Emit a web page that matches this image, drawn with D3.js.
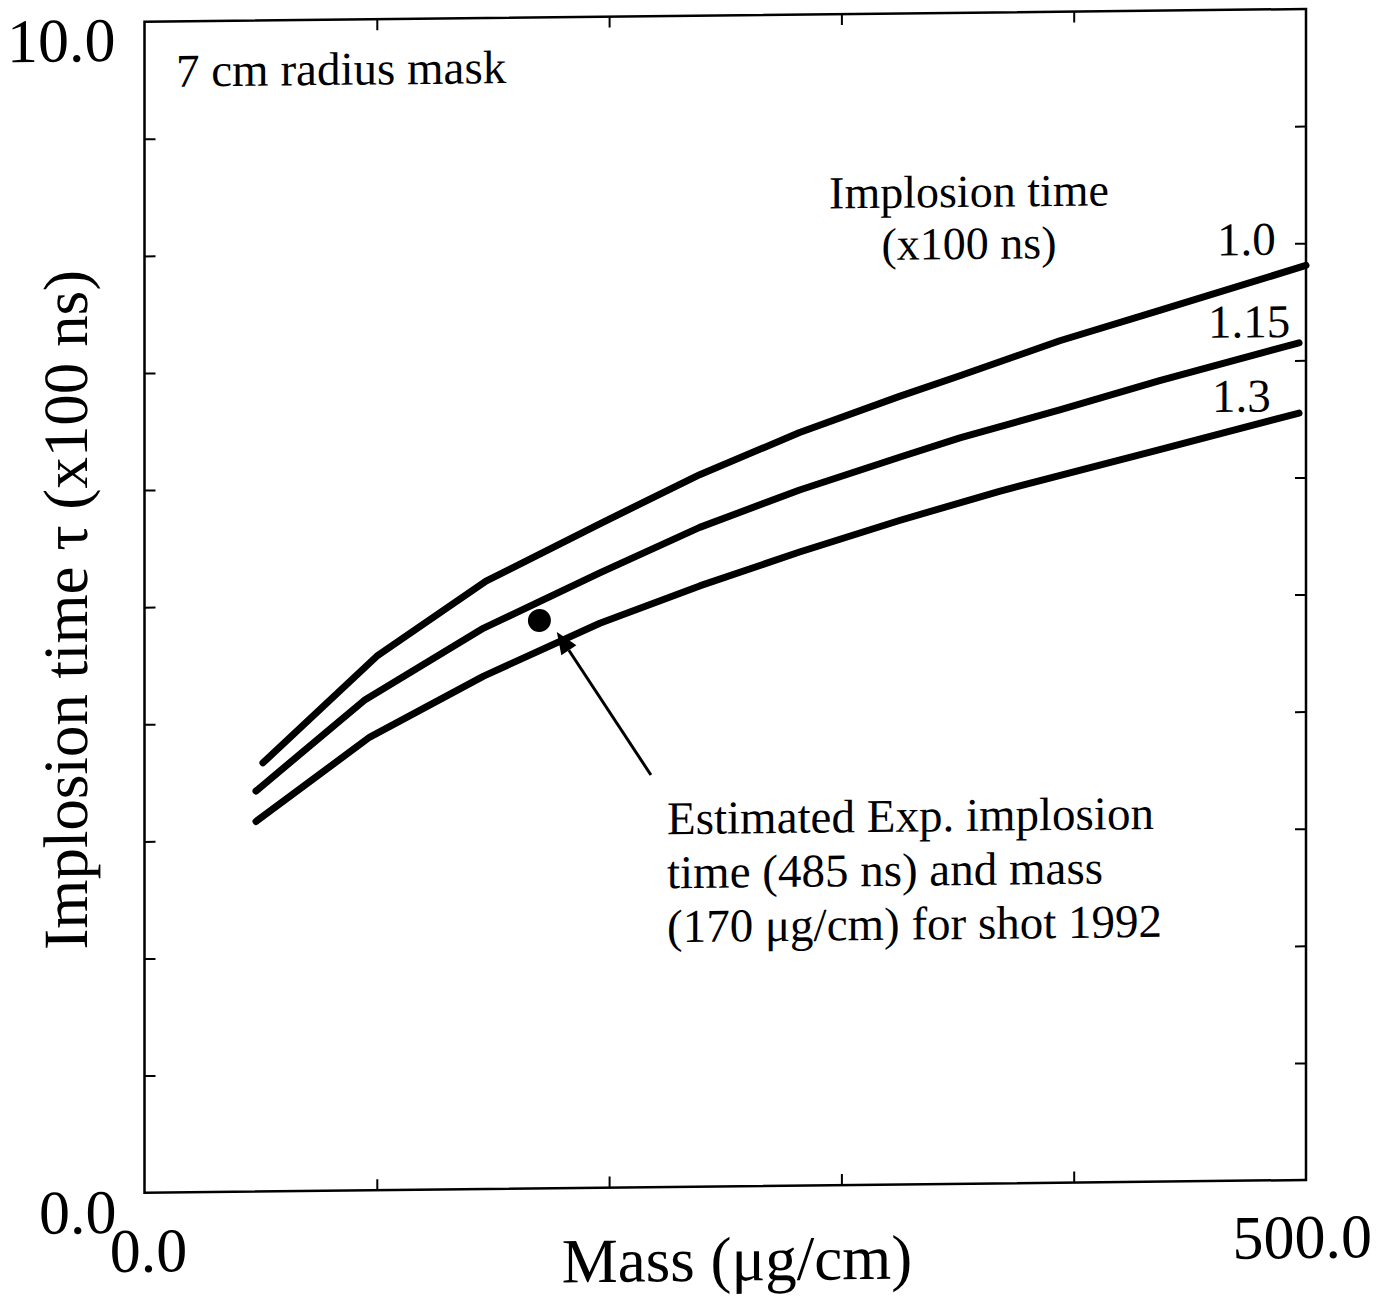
<!DOCTYPE html>
<html>
<head>
<meta charset="utf-8">
<script src="https://cdn.jsdelivr.net/npm/d3@7"></script>
<style>
  html, body { margin: 0; padding: 0; background: #fff; }
  svg { display: block; }
  text { font-family: "Liberation Serif", "Times New Roman", serif; fill: #000; }
</style>
</head>
<body>
<script>
// ---- data -------------------------------------------------------------
// Curves of constant implosion time (x100 ns): mass (ug/cm) vs tau (x100 ns)
const seriesNames = ["1.0", "1.15", "1.3"];
const mass100 = [51, 100, 147, 196, 239, 282, 325, 351, 394, 437, 500];
const tau100  = [3.66, 4.56, 5.19, 5.67, 6.08, 6.43, 6.73, 6.90, 7.19, 7.44, 7.81];
const mass115 = [48, 95, 146, 196, 239, 282, 325, 351, 394, 437, 497];
const tau115  = [3.42, 4.19, 4.79, 5.25, 5.63, 5.94, 6.21, 6.37, 6.60, 6.84, 7.15];
const mass130 = [48, 97, 146, 196, 239, 282, 325, 368, 437, 497];
const tau130  = [3.16, 3.87, 4.38, 4.82, 5.13, 5.41, 5.67, 5.91, 6.25, 6.55];

// Experimental estimate for shot 1992
const shotMass = 170;   // ug/cm
const shotTau = 4.85;   // x100 ns
// Arrow pointing at the estimate: [mass, tau] of tail and tip
const arrowTail = [218, 3.52];
const arrowTip  = [177.5, 4.75];

const xDomain = [0, 500];
const yDomain = [0, 10];
const xEndLabels = ["0.0", "500.0"];
const yEndLabels = ["0.0", "10.0"];
const xTicks = [100, 200, 300, 400];
const yTicks = [1, 2, 3, 4, 5, 6, 7, 8, 9];

const noteLines = [
  "Estimated Exp. implosion",
  "time (485 ns) and mass",
  "(170 \u03BCg/cm) for shot 1992"
];
const legendTitle = ["Implosion time", "(x100 ns)"];

// ---- layout -----------------------------------------------------------
const W = 1381, H = 1299;
const plotLeft = 144.5, plotRight = 1306, plotTop = 21.7, plotBottom = 1192.7;
// the whole sheet is drawn with a slight downward-left skew
const skewSlope = 0.01094;
const skewDeg = Math.atan(skewSlope) * 180 / Math.PI;

const x = d3.scaleLinear().domain(xDomain).range([plotLeft, plotRight]);
const y = d3.scaleLinear().domain(yDomain).range([plotBottom, plotTop]);

const svg = d3.select("body").append("svg")
  .attr("width", W).attr("height", H);
svg.append("rect").attr("width", W).attr("height", H).attr("fill", "#fff");

const g = svg.append("g")
  .attr("transform", `translate(0,${(skewSlope * plotLeft).toFixed(3)}) skewY(${(-skewDeg).toFixed(4)})`);

// ---- frame and ticks --------------------------------------------------
const tickLen = 11;
function styleAxis(sel) {
  sel.select(".domain").remove();
  sel.selectAll(".tick line").attr("stroke", "#000").attr("stroke-width", 2);
}
g.append("g").attr("transform", `translate(${x(0)},0)`)
  .call(d3.axisLeft(y).tickValues(yTicks).tickSize(-tickLen).tickFormat(""))
  .call(styleAxis);
g.append("g").attr("transform", `translate(${x(500)},0)`)
  .call(d3.axisRight(y).tickValues(yTicks).tickSize(-tickLen).tickFormat(""))
  .call(styleAxis);
g.append("g").attr("transform", `translate(0,${y(0)})`)
  .call(d3.axisBottom(x).tickValues(xTicks).tickSize(-tickLen).tickFormat(""))
  .call(styleAxis);
g.append("g").attr("transform", `translate(0,${y(10)})`)
  .call(d3.axisTop(x).tickValues(xTicks).tickSize(-tickLen).tickFormat(""))
  .call(styleAxis);

g.append("rect")
  .attr("x", x(0)).attr("y", y(10))
  .attr("width", x(500) - x(0)).attr("height", y(0) - y(10))
  .attr("fill", "none").attr("stroke", "#000").attr("stroke-width", 2.5);

// ---- end labels -------------------------------------------------------
const tickFont = 62;
g.append("text").attr("x", x(0) - 29).attr("y", y(10) + 39)
  .attr("text-anchor", "end").attr("font-size", tickFont).text(yEndLabels[1]);
g.append("text").attr("x", x(0) - 28).attr("y", y(0) + 40)
  .attr("text-anchor", "end").attr("font-size", tickFont).text(yEndLabels[0]);
g.append("text").attr("x", x(0) + 4).attr("y", y(0) + 79)
  .attr("text-anchor", "middle").attr("font-size", tickFont).text(xEndLabels[0]);
g.append("text").attr("x", x(500) + 66).attr("y", y(0) + 78)
  .attr("text-anchor", "end").attr("font-size", tickFont).text(xEndLabels[1]);

// ---- axis titles ------------------------------------------------------
g.append("text").attr("x", 737).attr("y", 1287)
  .attr("text-anchor", "middle").attr("font-size", 63)
  .text("Mass (\u03BCg/cm)");
g.append("text")
  .attr("transform", "translate(87,609) rotate(-90)")
  .attr("text-anchor", "middle").attr("font-size", 63)
  .text("Implosion time \u03C4 (x100 ns)");

// ---- curves -----------------------------------------------------------
const curves = [
  { name: seriesNames[0], pts: d3.zip(mass100, tau100) },
  { name: seriesNames[1], pts: d3.zip(mass115, tau115) },
  { name: seriesNames[2], pts: d3.zip(mass130, tau130) }
];
const line = d3.line().x(d => x(d[0])).y(d => y(d[1]));
g.selectAll("path.curve").data(curves).join("path")
  .attr("class", "curve")
  .attr("d", d => line(d.pts))
  .attr("fill", "none").attr("stroke", "#000")
  .attr("stroke-width", 7)
  .attr("stroke-linejoin", "round").attr("stroke-linecap", "round");

// curve labels, placed above each curve's right end
const labelFont = 47;
const labelOffsets = [[-89, -11], [-98, -6], [-94, -2]];
g.selectAll("text.curve-label").data(curves).join("text")
  .attr("class", "curve-label")
  .attr("x", (d, i) => x(500) + labelOffsets[i][0])
  .attr("y", (d, i) => y(d.pts[d.pts.length - 1][1]) + labelOffsets[i][1])
  .attr("font-size", labelFont)
  .text(d => d.name);

// legend title
g.append("text").attr("x", 969).attr("y", 216)
  .attr("text-anchor", "middle").attr("font-size", 46).text(legendTitle[0]);
g.append("text").attr("x", 969).attr("y", 268)
  .attr("text-anchor", "middle").attr("font-size", 46).text(legendTitle[1]);

// panel caption
g.append("text").attr("x", 176).attr("y", 87)
  .attr("font-size", labelFont).text("7 cm radius mask");

// ---- experimental point and arrow -------------------------------------
g.append("circle")
  .attr("cx", x(shotMass)).attr("cy", y(shotTau)).attr("r", 11.5)
  .attr("fill", "#000");

const tail = [x(arrowTail[0]), y(arrowTail[1])];
const tip = [x(arrowTip[0]), y(arrowTip[1])];
const adx = tip[0] - tail[0], ady = tip[1] - tail[1];
const alen = Math.hypot(adx, ady);
const ux = adx / alen, uy = ady / alen;
const headLen = 22, headHalf = 9;
const base = [tip[0] - ux * headLen, tip[1] - uy * headLen];
g.append("line")
  .attr("x1", tail[0]).attr("y1", tail[1])
  .attr("x2", base[0]).attr("y2", base[1])
  .attr("stroke", "#000").attr("stroke-width", 3);
g.append("path")
  .attr("d", d3.line()([
    tip,
    [base[0] - uy * headHalf, base[1] + ux * headHalf],
    [base[0] + uy * headHalf, base[1] - ux * headHalf]
  ]) + "Z")
  .attr("fill", "#000");

// annotation text
g.selectAll("text.note").data(noteLines).join("text")
  .attr("class", "note")
  .attr("x", 667)
  .attr("y", (d, i) => 840 + i * 54)
  .attr("font-size", labelFont)
  .text(d => d);
</script>
</body>
</html>
